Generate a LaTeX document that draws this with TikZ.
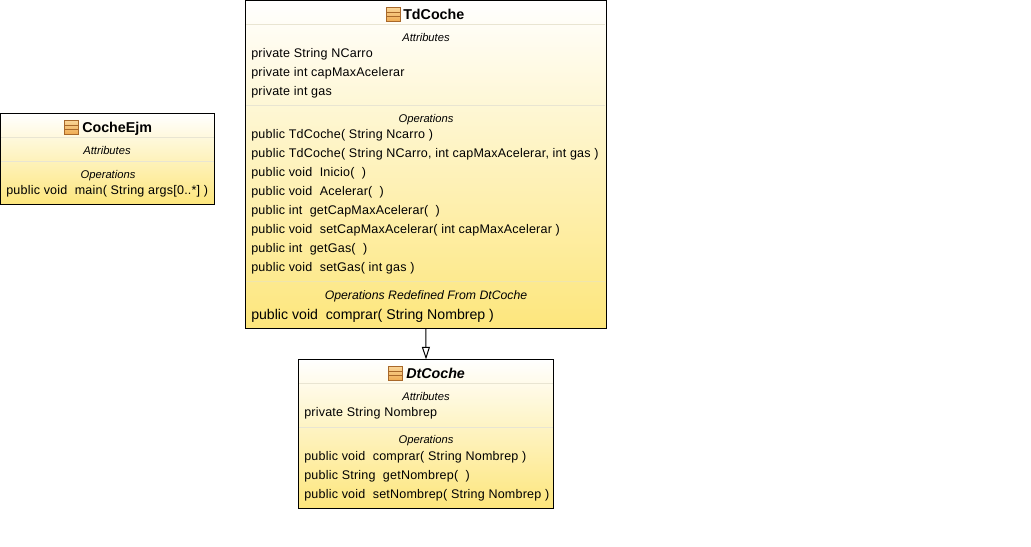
\documentclass[tikz,border=0pt]{standalone}
\usepackage{fontspec}
\setmainfont{Liberation Sans}
\newfontfamily\spaced[LetterSpace=1.7]{Liberation Sans}
\usetikzlibrary{arrows.meta}
\definecolor{umlbottom}{HTML}{FDE67C}
\definecolor{umlsep}{HTML}{E9E5D2}
\definecolor{umlseplow}{HTML}{F0E5AC}
\definecolor{icoborder}{HTML}{A8682A}
\definecolor{icotop}{HTML}{F9D596}
\definecolor{icobot}{HTML}{EFAA52}
\tikzset{
  x=0.75pt,y=-0.75pt,
  classbox/.style={draw=black,line width=0.75pt,top color=white,bottom color=umlbottom,inner sep=0pt,outer sep=0pt,anchor=north west},
  sep/.style={draw=umlsep,line width=0.75pt},
  seplow/.style={draw=umlseplow,line width=0.75pt},
  title/.style={font=\fontsize{10.7pt}{12pt}\selectfont\bfseries,anchor=base west,inner sep=0pt},
  heading/.style={font=\fontsize{8.4pt}{10pt}\selectfont\itshape,anchor=base,inner sep=0pt},
  member/.style={font=\spaced\fontsize{9.4pt}{11pt}\selectfont,anchor=base west,inner sep=0pt,yshift=0.5pt},
  bigmember/.style={font=\fontsize{10.6pt}{12pt}\selectfont,anchor=base west,inner sep=0pt},
  bighead/.style={font=\fontsize{9.2pt}{11pt}\selectfont\itshape,anchor=base,inner sep=0pt},
  icon/.style={draw=icoborder,top color=icotop,bottom color=icobot,line width=0.75pt,minimum width=10.9pt,minimum height=10.5pt,inner sep=0pt,outer sep=0pt,anchor=north west,
    path picture={
      \draw[icoborder,line width=0.6pt] ([yshift=1.6pt]path picture bounding box.west) -- ([yshift=1.6pt]path picture bounding box.east);
      \draw[icoborder,line width=0.6pt] ([yshift=-1.6pt]path picture bounding box.west) -- ([yshift=-1.6pt]path picture bounding box.east);
    }},
  general/.style={draw=black,line width=0.75pt,-{Triangle[open,fill=white,length=9.5pt,width=6pt]}}
}
\begin{document}
\begin{tikzpicture}
\useasboundingbox (0,0) rectangle (1031,546);
% --- TdCoche
\node[classbox,minimum width=270.4pt,minimum height=246pt] (td) at (245.5,0.5) {};
\draw[sep] (246,24) -- (605,24);
\draw[sep] (246,105) -- (605,105);
\draw[seplow] (246,281) -- (605,281);
\node[icon] (tdicon) at (386,7.5) {};
\node[title] (tdtitle) at (403,19.5) {TdCoche};
\node[heading] (tdattr) at (426,41) {Attributes};
\node[member] (td1) at (251,58) {private String NCarro};
\node[member] (td2) at (251,77) {private int capMaxAcelerar};
\node[member] (td3) at (251,96) {private int gas};
\node[heading] (tdops) at (426,122) {Operations};
\node[member] (td4) at (251,139) {public TdCoche( String Ncarro )};
\node[member] (td5) at (251,158) {public TdCoche( String NCarro, int capMaxAcelerar, int gas )};
\node[member] (td6) at (251,177) {public void\ \ Inicio(\ \ )};
\node[member] (td7) at (251,196) {public void\ \ Acelerar(\ \ )};
\node[member] (td8) at (251,215) {public int\ \ getCapMaxAcelerar(\ \ )};
\node[member] (td9) at (251,234) {public void\ \ setCapMaxAcelerar( int capMaxAcelerar )};
\node[member] (td10) at (251,253) {public int\ \ getGas(\ \ )};
\node[member] (td11) at (251,272) {public void\ \ setGas( int gas )};
\node[bighead] (tdred) at (426,299) {Operations Redefined From DtCoche};
\node[bigmember] (td12) at (251,319) {public void\ \ comprar( String Nombrep )};
% --- DtCoche
\node[classbox,minimum width=191.25pt,minimum height=111.75pt] (dt) at (298.5,359.5) {};
\draw[sep] (299,383) -- (553,383);
\draw[sep] (299,427) -- (553,427);
\node[icon] (dticon) at (388,366.5) {};
\node[title,font=\fontsize{10.7pt}{12pt}\selectfont\bfseries\itshape] (dttitle) at (406,378.5) {DtCoche};
\node[heading] (dtattr) at (426,400) {Attributes};
\node[member] (dt1) at (304,417) {private String Nombrep};
\node[heading] (dtops) at (426,443) {Operations};
\node[member] (dt2) at (304,461) {public void\ \ comprar( String Nombrep )};
\node[member] (dt3) at (304,480) {public String\ \ getNombrep(\ \ )};
\node[member] (dt4) at (304,499) {public void\ \ setNombrep( String Nombrep )};
% --- CocheEjm
\node[classbox,minimum width=160.5pt,minimum height=68.25pt] (ce) at (0.5,113.5) {};
\draw[sep] (1,137) -- (214,137);
\draw[sep] (1,161) -- (214,161);
\node[icon] (ceicon) at (64,120.5) {};
\node[title] (cetitle) at (82,132.5) {CocheEjm};
\node[heading] (ceattr) at (107,154) {Attributes};
\node[heading] (ceops) at (108,178) {Operations};
\node[member] (ce1) at (6,195) {public void\ \ main( String args[0..*] )};
% --- connector
\draw[general] (td.south) -- (dt.north);
\end{tikzpicture}
\end{document}
